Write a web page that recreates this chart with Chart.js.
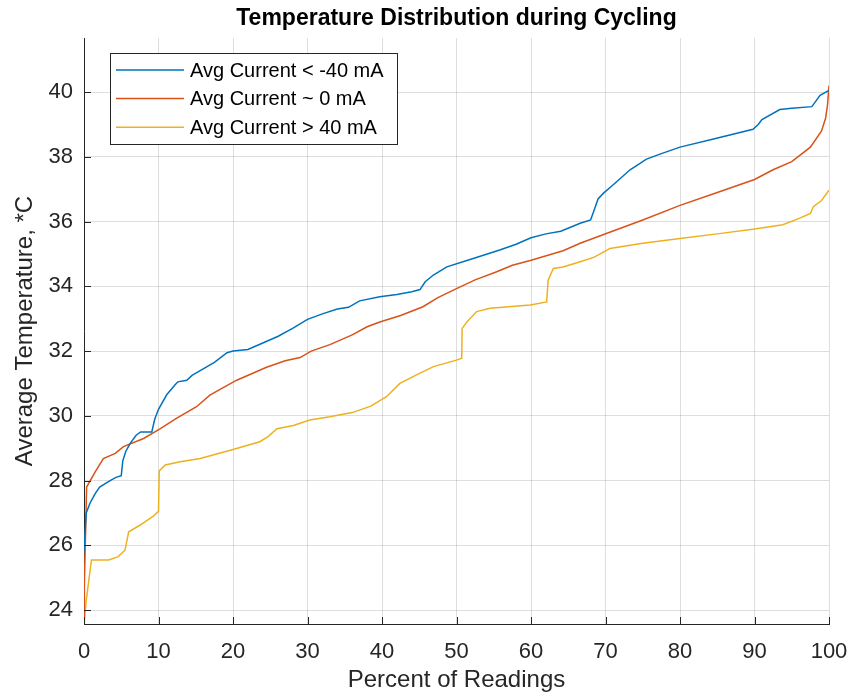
<!DOCTYPE html>
<html>
<head>
<meta charset="utf-8">
<script src="https://cdn.jsdelivr.net/npm/chart.js@4"></script>
<style>
  html, body { margin: 0; padding: 0; background: #fff; }
  #wrap { width: 849px; height: 695px; }
</style>
</head>
<body>
<div id="wrap"><canvas id="temps"></canvas></div>
<script>
// percent of readings / average temperature
var seriesNames = ["Avg Current < -40 mA", "Avg Current ~ 0 mA", "Avg Current > 40 mA"];
var seriesColors = ["#0072BD", "#D95319", "#EDB120"];

var negX = [0, 0.3, 0.8, 1.5, 2.1, 3.5, 4.3, 5.0, 5.2, 5.6, 6.2, 7.0, 7.6, 9.1, 9.5, 10.0, 11.1, 12.2, 12.6, 13.8,
  14.5, 16.0, 17.5, 19.2, 20.0, 22.0, 24.0, 26.0, 28.0, 30.0, 32.0, 34.0, 35.5, 37.0, 39.7, 42.0, 44.0, 45.1, 45.8, 46.9,
  48.7, 51.4, 53.5, 55.8, 58.0, 60.0, 62.0, 64.0, 66.6, 68.0, 68.4, 69.0, 69.7, 71.0, 73.3, 75.5, 77.5, 80.0, 84.5, 89.8,
  90.5, 91.0, 93.4, 95.0, 97.7, 98.8, 100];
var negY = [25.8, 27.0, 27.3, 27.6, 27.8, 28.0, 28.1, 28.15, 28.6, 28.9, 29.15, 29.4, 29.5, 29.5, 29.9, 30.2, 30.65, 30.95, 31.05, 31.1,
  31.25, 31.45, 31.65, 31.95, 32.0, 32.05, 32.25, 32.45, 32.7, 32.98, 33.15, 33.3, 33.35, 33.55, 33.68, 33.75, 33.83, 33.9, 34.14, 34.35,
  34.6, 34.8, 34.95, 35.12, 35.3, 35.5, 35.62, 35.7, 35.95, 36.05, 36.3, 36.7, 36.87, 37.13, 37.6, 37.93, 38.1, 38.3, 38.55, 38.85,
  39.0, 39.15, 39.46, 39.5, 39.55, 39.9, 40.05];

var zeroX = [0, 0.05, 0.35, 1.5, 2.6, 4.2, 5.3, 8.0, 10.2, 12.4, 15.1, 16.9, 18.5, 20.5, 22.5, 24.5, 27.0, 29.0, 30.5, 33.0,
  36.0, 38.0, 39.7, 42.5, 45.5, 47.5, 50.0, 52.5, 55.4, 57.5, 59.9, 64.3, 66.6, 70.2, 75.0, 80.0, 85.0, 90.0, 92.5, 95.0,
  97.5, 99.0, 99.55, 99.8, 100];
var zeroY = [23.6, 24.8, 27.8, 28.27, 28.68, 28.84, 29.05, 29.3, 29.6, 29.92, 30.28, 30.64, 30.85, 31.1, 31.3, 31.5, 31.7, 31.8, 32.0, 32.2,
  32.5, 32.75, 32.9, 33.1, 33.37, 33.65, 33.93, 34.2, 34.45, 34.65, 34.8, 35.1, 35.33, 35.64, 36.05, 36.5, 36.9, 37.3, 37.6, 37.85,
  38.3, 38.8, 39.2, 39.6, 40.2];

var posX = [0, 0.3, 1.0, 3.3, 4.6, 5.5, 6.0, 7.5, 9.3, 10.0, 10.1, 10.9, 12.9, 15.6, 20.0, 23.6, 24.7, 25.9, 28.1, 30.3,
  33.0, 36.0, 38.5, 40.6, 42.4, 44.5, 46.9, 50.0, 50.7, 50.75, 51.4, 52.7, 54.5, 59.9, 62.1, 62.3, 63.0, 64.3, 66.6, 68.5,
  70.2, 70.6, 75.0, 80.0, 85.0, 90.0, 93.8, 96.0, 97.5, 97.9, 99.0, 100];
var posY = [23.6, 24.3, 25.55, 25.55, 25.65, 25.85, 26.42, 26.62, 26.9, 27.05, 28.3, 28.48, 28.58, 28.68, 28.96, 29.2, 29.36, 29.6, 29.7, 29.87,
  29.97, 30.1, 30.3, 30.59, 31.0, 31.25, 31.52, 31.72, 31.78, 32.7, 32.9, 33.22, 33.32, 33.42, 33.52, 34.19, 34.55, 34.6, 34.76, 34.9,
  35.12, 35.17, 35.33, 35.48, 35.62, 35.77, 35.9, 36.1, 36.25, 36.46, 36.65, 36.97];

var xTicks = [0, 10, 20, 30, 40, 50, 60, 70, 80, 90, 100];
var yTicks = [24, 26, 28, 30, 32, 34, 36, 38, 40];

function pts(xs, ys) {
  var out = [];
  for (var i = 0; i < xs.length; i++) out.push({x: xs[i], y: ys[i]});
  return out;
}

var FONT = "'Liberation Sans', Arial, Helvetica, sans-serif";
var INK = "#262626";

// matlab style legend box in the upper left of the axes
var boxLegend = {
  id: 'boxLegend',
  afterDraw: function(chart) {
    var ctx = chart.ctx, a = chart.chartArea;
    var x0 = a.left + 26, y0 = a.top + 15, w = 287, h = 91;
    ctx.save();
    ctx.fillStyle = "#fff";
    ctx.fillRect(x0, y0, w, h);
    ctx.strokeStyle = INK;
    ctx.lineWidth = 1;
    ctx.strokeRect(x0 + 0.5, y0 + 0.5, w, h);
    ctx.font = "20px " + FONT;
    ctx.textBaseline = "middle";
    chart.data.datasets.forEach(function(ds, i) {
      var yy = y0 + 17 + i * 28.6;
      ctx.strokeStyle = ds.borderColor;
      ctx.lineWidth = 1.5;
      ctx.beginPath();
      ctx.moveTo(x0 + 6, yy);
      ctx.lineTo(x0 + 74, yy);
      ctx.stroke();
      ctx.fillStyle = "#000";
      ctx.fillText(ds.label, x0 + 80, yy + 1);
    });
    ctx.restore();
  }
};

// small inward tick marks
var innerTicks = {
  id: 'innerTicks',
  afterDatasetsDraw: function(chart) {
    var ctx = chart.ctx, a = chart.chartArea;
    var xs = chart.scales.x, ys = chart.scales.y;
    ctx.save();
    ctx.strokeStyle = INK;
    ctx.lineWidth = 1;
    ctx.beginPath();
    xTicks.forEach(function(v) {
      var px = Math.round(xs.getPixelForValue(v)) + 0.5;
      ctx.moveTo(px, a.bottom);
      ctx.lineTo(px, a.bottom - 7);
    });
    yTicks.forEach(function(v) {
      var py = Math.round(ys.getPixelForValue(v)) + 0.5;
      ctx.moveTo(a.left, py);
      ctx.lineTo(a.left + 7, py);
    });
    ctx.stroke();
    ctx.restore();
  }
};

var ctx = document.getElementById("temps");
var myChart = new Chart(ctx, {
  type: 'line',
  data: {
    datasets: [
      {label: seriesNames[0], data: pts(negX, negY), borderColor: seriesColors[0]},
      {label: seriesNames[1], data: pts(zeroX, zeroY), borderColor: seriesColors[1]},
      {label: seriesNames[2], data: pts(posX, posY), borderColor: seriesColors[2]}
    ]
  },
  options: {
    responsive: true,
    maintainAspectRatio: false,
    animation: false,
    layout: {padding: {left: 0, right: 20, top: 0, bottom: 0}},
    elements: {
      line: {borderWidth: 1.5, tension: 0, fill: false},
      point: {radius: 0, hoverRadius: 0}
    },
    plugins: {
      legend: {display: false},
      tooltip: {enabled: false},
      title: {
        display: true,
        fullSize: false,
        text: "Temperature Distribution during Cycling",
        color: "#000",
        font: {family: FONT, size: 23, weight: 'bold'},
        padding: {top: 5.2, bottom: 5.2}
      }
    },
    scales: {
      x: {
        type: 'linear',
        min: 0, max: 100,
        afterFit: function(s) { s.height = 71; s.paddingLeft = 0; s.paddingRight = 0; },
        afterBuildTicks: function(s) { s.ticks = xTicks.map(function(v) { return {value: v}; }); },
        ticks: {color: INK, padding: 15, font: {family: FONT, size: 22}},
        grid: {color: "rgba(0,0,0,0.13)", drawTicks: false},
        border: {color: INK, width: 1},
        title: {display: true, text: "Percent of Readings", color: INK, font: {family: FONT, size: 24}, padding: {top: 0, bottom: 0}}
      },
      y: {
        type: 'linear',
        min: 23.57, max: 41.67,
        afterFit: function(s) { s.width = 84; s.paddingTop = 0; s.paddingBottom = 0; },
        afterBuildTicks: function(s) { s.ticks = yTicks.map(function(v) { return {value: v}; }); },
        ticks: {color: INK, padding: 11, font: {family: FONT, size: 22}},
        grid: {color: "rgba(0,0,0,0.13)", drawTicks: false},
        border: {color: INK, width: 1},
        title: {display: true, text: "Average Temperature, *C", color: INK, font: {family: FONT, size: 24}, padding: {top: 10.6, bottom: 0}}
      }
    }
  },
  plugins: [boxLegend, innerTicks]
});
</script>
</body>
</html>
